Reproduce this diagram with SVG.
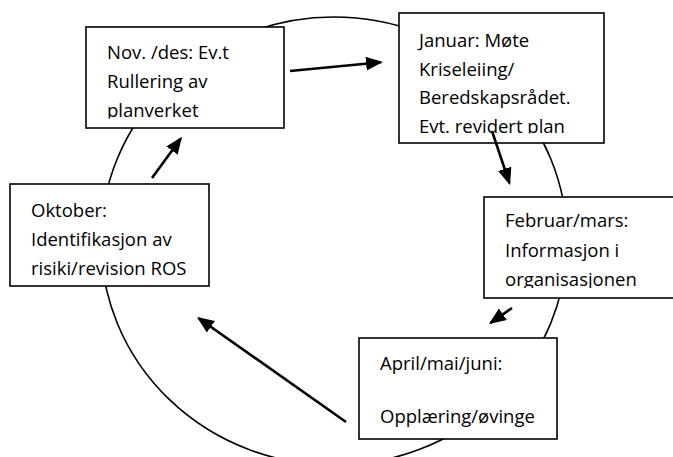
<svg xmlns="http://www.w3.org/2000/svg" width="673" height="457" viewBox="0 0 673 457">
  <style>
    .box { fill: #ffffff; stroke: #000000; stroke-width: 1.6; }
    .txt { font-family: "Open Sans", "Liberation Sans", sans-serif; font-size: 18.5px; fill: #000000; }
    .cycle { fill: none; stroke: #000000; stroke-width: 1.6; }
    .arrow { fill: none; stroke: #000000; stroke-width: 2.6; marker-end: url(#head); }
  </style>
  <defs>
    <marker id="head" markerUnits="userSpaceOnUse" markerWidth="18" markerHeight="15" refX="15" refY="7" orient="auto">
      <path d="M0,0 L17,7 L0,14 Z" fill="#000000"/>
    </marker>
    <clipPath id="clipNov"><rect x="86" y="27" width="198" height="91.5"/></clipPath>
    <clipPath id="clipJan"><rect x="399" y="13" width="205" height="120.5"/></clipPath>
    <clipPath id="clipFeb"><rect x="484" y="197" width="200" height="91"/></clipPath>
    <clipPath id="clipApr"><rect x="359" y="338" width="198" height="91"/></clipPath>
  </defs>
  <rect width="673" height="457" fill="#ffffff"/>
  <g id="cycle">
    <ellipse class="cycle" cx="334" cy="241" rx="233" ry="224"/>
  </g>
  <g id="node-nov">
    <rect class="box" x="86" y="27" width="198" height="101"/>
    <g clip-path="url(#clipNov)">
      <text class="txt" x="107" y="58.5">Nov. /des: Ev.t</text>
      <text class="txt" x="107" y="88">Rullering av</text>
      <text class="txt" x="107" y="117">planverket</text>
    </g>
  </g>
  <g id="node-januar">
    <rect class="box" x="399" y="13" width="205" height="130"/>
    <g clip-path="url(#clipJan)">
      <text class="txt" x="419" y="46.5">Januar: Møte</text>
      <text class="txt" x="419" y="75.5">Kriseleiing/</text>
      <text class="txt" x="419" y="104">Beredskapsrådet.</text>
      <text class="txt" x="419" y="132.5">Evt. revidert plan</text>
    </g>
  </g>
  <g id="node-oktober">
    <rect class="box" x="10" y="184" width="199" height="102"/>
    <text class="txt" x="31" y="216.5">Oktober:</text>
    <text class="txt" x="31" y="246">Identifikasjon av</text>
    <text class="txt" x="31" y="275">risiki/revision ROS</text>
  </g>
  <g id="node-februar">
    <rect class="box" x="484" y="197" width="210" height="101"/>
    <g clip-path="url(#clipFeb)">
      <text class="txt" x="505" y="227">Februar/mars:</text>
      <text class="txt" x="505" y="256.5">Informasjon i</text>
      <text class="txt" x="505" y="286">organisasjonen</text>
    </g>
  </g>
  <g id="node-april">
    <rect class="box" x="359" y="338" width="198" height="101"/>
    <g clip-path="url(#clipApr)">
      <text class="txt" x="380" y="370">April/mai/juni:</text>
      <text class="txt" x="380" y="423">Opplæring/øvinge</text>
    </g>
  </g>
  <g id="connectors">
    <line class="arrow" x1="290" y1="71" x2="381" y2="62.2"/>
    <line class="arrow" x1="492" y1="131" x2="509.4" y2="183.1"/>
    <line class="arrow" x1="512" y1="308" x2="490.6" y2="322.9"/>
    <line class="arrow" x1="346" y1="422" x2="198.6" y2="318.2"/>
    <line class="arrow" x1="152" y1="178" x2="180.8" y2="138.4"/>
  </g>
</svg>
